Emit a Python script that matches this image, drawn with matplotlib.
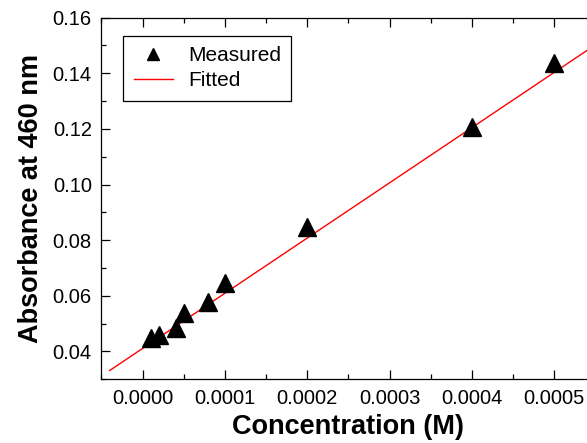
import numpy as np
import matplotlib
matplotlib.use("Agg")
import matplotlib.pyplot as plt
from matplotlib.ticker import MultipleLocator, FormatStrFormatter

plt.rcParams['font.family'] = ['Liberation Sans', 'DejaVu Sans']

# Calibration data
concentration = [0.00001, 0.00002, 0.00004, 0.00005, 0.00008, 0.0001, 0.0002, 0.0004, 0.0005]
absorbance = [0.0449, 0.0458, 0.0486, 0.0539, 0.0579, 0.0647, 0.0848, 0.1208, 0.1437]

# Linear fit parameters (A = intercept + slope * C)
fit_slope = 198.4
fit_intercept = 0.0411
fit_range = [-0.00004, 0.00056]

fig = plt.figure(figsize=(5.87, 4.43), dpi=100)
ax = fig.add_axes([0.1729, 0.1438, 0.8412, 0.8163])

ax.plot(concentration, absorbance, linestyle='none', marker='^', ms=13,
        color='black', label='Measured', zorder=3)
xf = np.array(fit_range)
ax.plot(xf, fit_intercept + fit_slope * xf, color='red', lw=1.0,
        label='Fitted', zorder=2)

ax.set_xlim(-0.00005, 0.00055)
ax.set_ylim(0.03, 0.16)

ax.xaxis.set_major_locator(MultipleLocator(0.0001))
ax.xaxis.set_minor_locator(MultipleLocator(0.00005))
ax.yaxis.set_major_locator(MultipleLocator(0.02))
ax.yaxis.set_minor_locator(MultipleLocator(0.01))
ax.xaxis.set_major_formatter(FormatStrFormatter('%.4f'))
ax.yaxis.set_major_formatter(FormatStrFormatter('%.2f'))

ax.tick_params(which='both', direction='in', top=True, right=False,
               width=0.9, labelsize=14.5, color='black')
ax.tick_params(which='major', length=6.5, pad=7)
ax.tick_params(which='minor', length=3.5)
for s in ax.spines.values():
    s.set_linewidth(0.9)

ax.set_xlabel('Concentration (M)', fontsize=19.5, fontweight='bold', labelpad=4)
ax.set_ylabel('Absorbance at 460 nm', fontsize=19.5, fontweight='bold', labelpad=6)

leg = ax.legend(loc='upper left', bbox_to_anchor=(0.0441, 0.9494), borderaxespad=0,
                fontsize=15, markerscale=0.63, handlelength=1.9, handletextpad=0.7,
                borderpad=0.5, labelspacing=0.28, fancybox=False, framealpha=1,
                edgecolor='black')
leg.get_frame().set_linewidth(0.9)

fig.savefig('out.png', dpi=100)
